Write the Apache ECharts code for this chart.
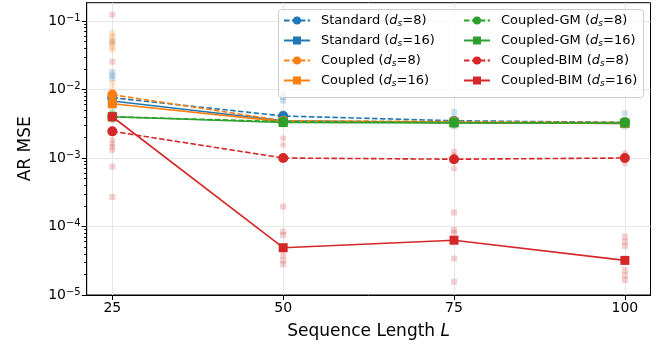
<!DOCTYPE html>
<html><head><meta charset="utf-8">
<script src="https://cdn.jsdelivr.net/npm/echarts@6/dist/echarts.min.js"></script>
<style>html,body{margin:0;padding:0;background:#fff}#c{width:661px;height:350px}</style>
</head><body><div id="c"></div>
<script>
// ---- data ----
const lengths = [25, 50, 75, 100];
const xTicks = [25, 50, 75, 100];
const yTicks = [1e-5, 1e-4, 1e-3, 1e-2, 1e-1];

const standard8  = [7.6e-3, 4.1e-3, 3.5e-3, 3.3e-3];
const standard16 = [6.8e-3, 3.5e-3, 3.3e-3, 3.2e-3];
const coupled8   = [8.4e-3, 3.5e-3, 3.4e-3, 3.3e-3];
const coupled16  = [6.2e-3, 3.4e-3, 3.3e-3, 3.2e-3];
const gm8        = [4.0e-3, 3.4e-3, 3.3e-3, 3.3e-3];
const gm16       = [4.0e-3, 3.3e-3, 3.25e-3, 3.25e-3];
const bim8       = [2.45e-3, 1.0e-3, 9.6e-4, 1.0e-3];
const bim16      = [4.0e-3, 4.9e-5, 6.3e-5, 3.2e-5];

// individual runs (faint points), one list per sequence length
const runsBlue   = [[5.0e-2, 1.8e-2, 1.6e-2, 1.46e-2, 9e-3, 7e-3], [8.7e-3, 7.8e-3, 6.9e-3, 4.5e-3], [4.7e-3, 3.6e-3, 2.9e-3], [4.5e-3, 3.6e-3, 2.9e-3]];
const runsOrange = [[6.6e-2, 5.9e-2, 5.2e-2, 4.7e-2, 4.2e-2, 3.8e-2, 1.25e-2, 1.0e-2], [3.8e-3, 3.2e-3], [3.6e-3, 3.1e-3], [3.5e-3, 3.1e-3]];
const runsGreen  = [[5.0e-3, 4.4e-3, 3.6e-3], [3.6e-3, 3.1e-3], [3.5e-3, 3.1e-3], [3.5e-3, 3.1e-3]];
const runsRedC   = [[1.83e-3, 1.6e-3, 1.46e-3, 1.3e-3], [1.95e-3, 1.55e-3], [1.24e-3, 1.1e-3, 7e-4], [1.17e-3, 8.3e-4]];
const runsRedS   = [[1.24e-1, 2.55e-2, 7.5e-4, 2.7e-4], [1.95e-4, 8.4e-5, 7.5e-5, 3.8e-5, 3.2e-5, 2.8e-5], [1.6e-4, 8.9e-5, 8.1e-5, 3.4e-5, 1.56e-5], [7.1e-5, 6.0e-5, 5.2e-5, 2.3e-5, 1.94e-5, 1.65e-5]];

const blue = '#1f77b4', orange = '#ff7f0e', green = '#2ca02c', red = '#d62728';
const FONT = 'DejaVu Sans';
const Y_MIN = 1e-5, Y_MAX = 0.185;

function pairs(vals) { return lengths.map((x, i) => [x, vals[i]]); }
function runPairs(runs) { const out = []; runs.forEach((arr, i) => arr.forEach(v => out.push([lengths[i], v]))); return out; }

function lineSeries(name, vals, color, dashed, symbol) {
  return {
    name, type: 'line', data: pairs(vals), symbol, symbolSize: symbol === 'circle' ? 10 : 9,
    lineStyle: { color, width: 1.6, type: dashed ? [5.5, 2.4] : 'solid' },
    itemStyle: { color }, z: 3, animation: false
  };
}
function runSeries(runs, color, symbol) {
  return { type: 'scatter', data: runPairs(runs), symbol, symbolSize: 6,
    itemStyle: { color, opacity: 0.22 }, z: 2, silent: true, animation: false };
}

const legendRich = { i: { fontFamily: FONT, fontSize: 13, fontStyle: 'italic', color: '#000' },
                     s: { fontFamily: FONT, fontSize: 9, fontStyle: 'italic', color: '#000', verticalAlign: 'bottom', padding: [6, 0, 0, 0] },
                     n: { fontFamily: FONT, fontSize: 13, color: '#000' } };
function legendFmt(name) {
  const m = name.match(/^(.*) \(ds=(\d+)\)$/);
  return '{n|' + m[1] + ' (}{i|d}{s|s}{n|=' + m[2] + ')}';
}

const names = ['Standard (ds=8)', 'Standard (ds=16)', 'Coupled (ds=8)', 'Coupled (ds=16)',
               'Coupled-GM (ds=8)', 'Coupled-GM (ds=16)', 'Coupled-BIM (ds=8)', 'Coupled-BIM (ds=16)'];

const legendBase = { orient: 'vertical', itemWidth: 26, itemHeight: 10, itemGap: 6, padding: 0,
  formatter: legendFmt, textStyle: { fontFamily: FONT, fontSize: 13, color: '#000', rich: legendRich, padding: [0, 0, 0, 6] },
  selectedMode: false, z: 5 };

const supRich = { b: { fontFamily: FONT, fontSize: 14, color: '#000' },
                  p: { fontFamily: FONT, fontSize: 10, color: '#000', verticalAlign: 'top', padding: [0, 0, 6, 0] } };

// minor ticks (2..9 x 10^k), placed on a hidden linear axis in log10 units
const minorTicksLog = [];
for (let e = -5; e <= -1; e++) for (let k = 2; k <= 9; k++) { const v = k * Math.pow(10, e); if (v < Y_MAX) minorTicksLog.push(Math.log10(v)); }

const chart = echarts.init(document.getElementById('c'), null, { renderer: 'canvas' });
chart.setOption({
  animation: false,
  backgroundColor: '#fff',
  grid: { left: 86.7, right: 10.5, top: 2.7, bottom: 55, show: true, borderColor: '#000', borderWidth: 1, backgroundColor: 'transparent' },
  xAxis: {
    type: 'value', min: 21.25, max: 103.75,
    name: 'Sequence Length {it|L}', nameLocation: 'middle', nameGap: 28,
    nameTextStyle: { fontFamily: FONT, fontSize: 17, color: '#000', rich: { it: { fontFamily: FONT, fontSize: 17, fontStyle: 'italic', color: '#000' } } },
    axisLine: { lineStyle: { color: '#000', width: 1 } },
    axisTick: { inside: false, length: 5, lineStyle: { color: '#000' }, customValues: xTicks },
    axisLabel: { fontFamily: FONT, fontSize: 14, color: '#000', margin: 6, customValues: xTicks },
    splitLine: { show: true, lineStyle: { color: '#e6e6e6', width: 1 } }
  },
  yAxis: [{
    type: 'log', logBase: 10, min: Y_MIN, max: Y_MAX,
    name: 'AR MSE', nameLocation: 'middle', nameGap: 53,
    nameTextStyle: { fontFamily: FONT, fontSize: 17, color: '#000' },
    axisLine: { lineStyle: { color: '#000', width: 1 } },
    axisTick: { length: 5, lineStyle: { color: '#000' }, customValues: yTicks },
    axisLabel: { margin: 6, rich: supRich, customValues: yTicks,
      formatter: v => '{b|10}{p|−' + Math.round(-Math.log10(v)) + '}' },
    splitLine: { show: true, lineStyle: { color: '#e6e6e6', width: 1 } }
  }, {
    type: 'value', min: Math.log10(Y_MIN), max: Math.log10(Y_MAX), position: 'left', offset: 0,
    axisLine: { show: false, onZero: false },
    axisTick: { show: true, length: 2.5, lineStyle: { color: '#000', width: 1 }, customValues: minorTicksLog },
    axisLabel: { show: false }, splitLine: { show: false }
  }],
  legend: [
    Object.assign({}, legendBase, { left: 283, top: 14, data: names.slice(0, 4) }),
    Object.assign({}, legendBase, { left: 463, top: 14, data: names.slice(4) })
  ],
  graphic: [{ type: 'rect', left: 278, top: 9, shape: { width: 365, height: 88, r: 3 },
    style: { fill: 'rgba(255,255,255,0.8)', stroke: '#cccccc', lineWidth: 1 }, z: 4 }],
  series: [
    { type: 'line', yAxisIndex: 1, data: [], silent: true, showSymbol: false },
    runSeries(runsBlue, blue, 'rect'),
    runSeries(runsOrange, orange, 'rect'),
    runSeries(runsGreen, green, 'rect'),
    runSeries(runsRedC, red, 'circle'),
    runSeries(runsRedS, red, 'rect'),
    lineSeries(names[0], standard8, blue, true, 'circle'),
    lineSeries(names[1], standard16, blue, false, 'rect'),
    lineSeries(names[2], coupled8, orange, true, 'circle'),
    lineSeries(names[3], coupled16, orange, false, 'rect'),
    lineSeries(names[4], gm8, green, true, 'circle'),
    lineSeries(names[5], gm16, green, false, 'rect'),
    lineSeries(names[6], bim8, red, true, 'circle'),
    lineSeries(names[7], bim16, red, false, 'rect')
  ]
});
</script></body></html>
